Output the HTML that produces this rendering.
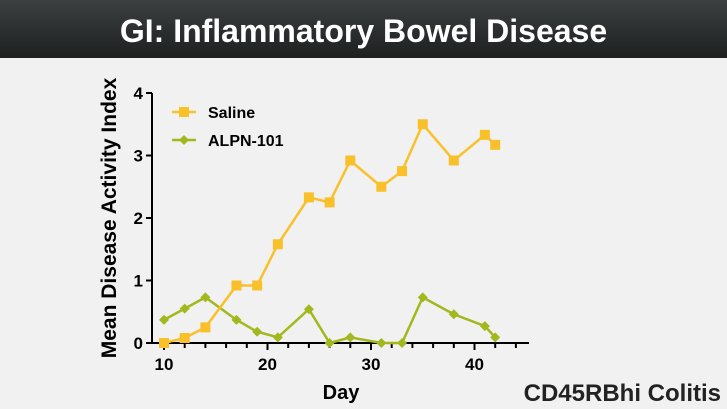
<!DOCTYPE html>
<html><head><meta charset="utf-8"><style>
body{margin:0;width:727px;height:409px;overflow:hidden;background:#f1f1f1;font-family:"Liberation Sans",Arial,sans-serif}
#hdr{position:absolute;left:0;top:0;width:727px;height:58px;background:linear-gradient(#3c4040,#1e2020);color:#fff;font-weight:bold;font-size:32px;text-align:center;line-height:62px}
</style></head><body>
<div id="hdr">GI: Inflammatory Bowel Disease</div>
<svg id="chart" width="727" height="409" style="position:absolute;left:0;top:0"></svg>
<script>
const days=[10,12,14,17,19,21,24,26,28,31,33,35,38,41,42];
const saline=[0,0.08,0.25,0.92,0.92,1.58,2.33,2.25,2.92,2.5,2.75,3.5,2.92,3.33,3.17];
const alpn=[0.37,0.55,0.73,0.37,0.18,0.09,0.54,0,0.09,0,0,0.73,0.46,0.27,0.09];
const xTicks=[10,20,30,40];
const yTicks=[0,1,2,3,4];
const NS="http://www.w3.org/2000/svg";
const svg=document.getElementById('chart');
const X=v=>164+(v-10)*10.35;
const Y=v=>343-v*62.5;
function mk(t,a,p){const e=document.createElementNS(NS,t);for(const k in a)e.setAttribute(k,a[k]);(p||svg).appendChild(e);return e;}
const ax=mk('g',{});


mk('line',{x1:152,y1:Y(4),x2:152,y2:Y(0)+1,stroke:'#000','stroke-width':2},ax);
mk('line',{x1:151,y1:Y(0),x2:529,y2:Y(0),stroke:'#000','stroke-width':2},ax);
yTicks.forEach(v=>{mk('line',{x1:146,y1:Y(v),x2:152,y2:Y(v),stroke:'#000','stroke-width':2},ax);
const t=mk('text',{x:143,y:Y(v)+6,'text-anchor':'end','font-size':17,'font-weight':'bold'},ax);t.textContent=v;

});
for(let v=10;v<=44;v+=2){mk('line',{x1:X(v),y1:Y(0),x2:X(v),y2:Y(0)+(v%10==0?7:5),stroke:'#000','stroke-width':2},ax);}
xTicks.forEach(v=>{const t=mk('text',{x:X(v),y:370,'text-anchor':'middle','font-size':17,'font-weight':'bold'},ax);t.textContent=v;

});
const xt=mk('text',{x:341,y:399,'text-anchor':'middle','font-size':20,'font-weight':'bold'});xt.textContent='Day';


const yt=mk('text',{x:0,y:0,'text-anchor':'middle','font-size':21,'font-weight':'bold',transform:'translate(116,218) rotate(-90)'});yt.textContent='Mean Disease Activity Index';


function series(vals,col,name,square){
const g=mk('g',{});


mk('polyline',{points:days.map((d,i)=>X(d)+','+Y(vals[i])).join(' '),fill:'none',stroke:col,'stroke-width':2.5},g);
days.forEach((d,i)=>{let m;
if(square)m=mk('rect',{x:X(d)-5,y:Y(vals[i])-5,width:10,height:10,fill:col},g);
else m=mk('polygon',{points:`${X(d)},${Y(vals[i])-5} ${X(d)+5},${Y(vals[i])} ${X(d)},${Y(vals[i])+5} ${X(d)-5},${Y(vals[i])}`,fill:col},g);

});}
series(alpn,'#a3b81c','alpn-101-series',false);
series(saline,'#f9c02a','saline-series',true);
function legend(y,col,label,square){
const g=mk('g',{});


mk('line',{x1:172,y1:y,x2:196,y2:y,stroke:col,'stroke-width':2.5},g);
if(square)mk('rect',{x:179,y:y-5,width:10,height:10,fill:col},g);
else mk('polygon',{points:`184,${y-5} 189,${y} 184,${y+5} 179,${y}`,fill:col},g);
const t=mk('text',{x:208,y:y+6,'font-size':16,'font-weight':'bold'},g);t.textContent=label;}
legend(112,'#f9c02a','Saline',true);
legend(140,'#a3b81c','ALPN-101',false);
const c=mk('text',{x:721,y:401,'text-anchor':'end','font-size':24,'font-weight':'bold',fill:'#222'});c.textContent='CD45RBhi Colitis';


</script>
</body></html>
